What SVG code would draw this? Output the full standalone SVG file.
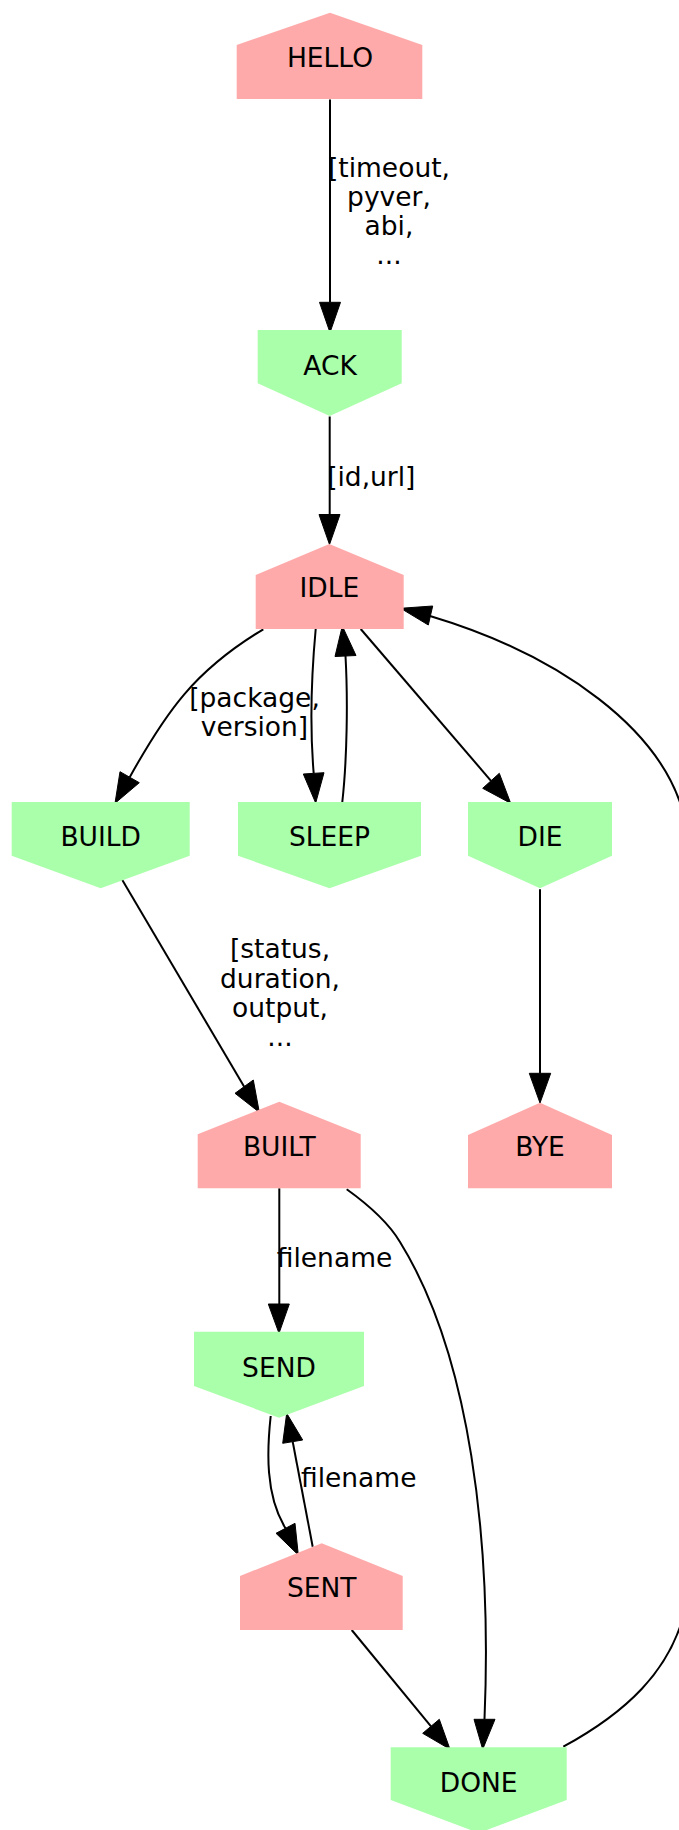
<svg xmlns="http://www.w3.org/2000/svg" width="679" height="1830" viewBox="0 0 679 1830">
<style>
.bg{fill:#ffffff}
.req{fill:#ffaaaa;stroke:none}
.rsp{fill:#aaffaa;stroke:none}
.edge{fill:none;stroke:#000000;stroke-width:2}
.arrow{fill:#000000;stroke:#000000;stroke-width:1}
text{font-family:"DejaVu Sans","Liberation Sans",sans-serif;font-size:26.5px;fill:#000000;text-anchor:middle}
</style>
<rect class="bg" x="0" y="0" width="679" height="1830"/>
<g id="edges">
  <g id="e-hello-ack">
    <path class="edge" d="M330,99.5 V302.3"/>
    <polygon class="arrow" points="330,332.5 319.5,302.3 340.5,302.3"/>
    <text x="389" y="176.5">[timeout,</text>
    <text x="389" y="205.8">pyver,</text>
    <text x="389" y="235.1">abi,</text>
    <text x="389" y="264.4">...</text>
  </g>
  <g id="e-ack-idle">
    <path class="edge" d="M329.7,416.5 V514.5"/>
    <polygon class="arrow" points="329.5,544.5 319,514.5 340,514.5"/>
    <text x="371.3" y="486">[id,url]</text>
  </g>
  <g id="e-idle-build">
    <path class="edge" d="M263.3,629.3 C194.7,670.4 166.2,711.6 129.7,777.2"/>
    <polygon class="arrow" points="115,803.3 120,771.7 139.3,782.7"/>
    <text x="254.5" y="706.7">[package,</text>
    <text x="254.5" y="736">version]</text>
  </g>
  <g id="e-idle-sleep">
    <path class="edge" d="M315.7,629 C311,680 310,730 313.7,773.3"/>
    <polygon class="arrow" points="315.7,803 303.3,774 324,772.7"/>
  </g>
  <g id="e-sleep-idle">
    <path class="edge" d="M342.3,802 C347,760 348,700 345.5,656"/>
    <polygon class="arrow" points="342.3,626 335,656.5 356,655.5"/>
  </g>
  <g id="e-idle-die">
    <path class="edge" d="M360.7,629 L491,780.8"/>
    <polygon class="arrow" points="510.7,803.3 482.7,788.3 499.3,773.3"/>
  </g>
  <g id="e-done-idle">
    <path class="edge" d="M563.3,1746.7 C625,1713 670,1672 685,1610 C700,1550 700,900 685,820 C665,730 560,655 430,616"/>
    <polygon class="arrow" points="400.7,608.3 428.3,625 432.7,606"/>
  </g>
  <g id="e-build-built">
    <path class="edge" d="M122.3,880 L244.2,1086.7"/>
    <polygon class="arrow" points="259.3,1112.3 235,1093.3 253.3,1080"/>
    <text x="280" y="958.3">[status,</text>
    <text x="280" y="987.6">duration,</text>
    <text x="280" y="1016.9">output,</text>
    <text x="280" y="1046.2">...</text>
  </g>
  <g id="e-die-bye">
    <path class="edge" d="M540,889.3 V1073.3"/>
    <polygon class="arrow" points="540,1103 529.3,1073.3 550.7,1073.3"/>
  </g>
  <g id="e-built-send">
    <path class="edge" d="M279.3,1188.3 V1304"/>
    <polygon class="arrow" points="279,1333.3 268.3,1304 289.3,1304"/>
    <text x="334.5" y="1266.7">filename</text>
  </g>
  <g id="e-built-done">
    <path class="edge" d="M346.7,1189.3 C370,1206 388,1222 400,1242 C470,1355 492,1540 484.5,1719.3"/>
    <polygon class="arrow" points="482.7,1749.3 474,1719.3 495,1719.3"/>
  </g>
  <g id="e-send-sent">
    <path class="edge" d="M270.7,1416 C267,1450 265,1495 285.5,1528.3"/>
    <polygon class="arrow" points="298.3,1555 276,1533.3 295,1523.3"/>
  </g>
  <g id="e-sent-send">
    <path class="edge" d="M312.7,1546.7 L292.7,1441.7"/>
    <polygon class="arrow" points="286.7,1413.3 282.7,1443.3 302.7,1440"/>
    <text x="358.7" y="1487.3">filename</text>
  </g>
  <g id="e-sent-done">
    <path class="edge" d="M351.7,1630 L431,1726.3"/>
    <polygon class="arrow" points="450,1749.3 422.7,1733.3 439.3,1719.3"/>
  </g>
</g>
<g id="HELLO">
  <polygon class="req" points="330,12.7 422.3,45 422.3,99 236.7,99 236.7,45"/>
  <text x="330" y="66.7">HELLO</text>
</g>
<g id="ACK">
  <polygon class="rsp" points="257.7,330 401.7,330 401.7,383.3 329.7,416 257.7,383.3"/>
  <text x="330" y="375">ACK</text>
</g>
<g id="IDLE">
  <polygon class="req" points="329.3,544 403.7,575 403.7,629 255.7,629 255.7,575"/>
  <text x="329.3" y="596.7">IDLE</text>
</g>
<g id="BUILD">
  <polygon class="rsp" points="11.7,802 189.7,802 189.7,855.7 100.7,888.3 11.7,855.7"/>
  <text x="100.7" y="846">BUILD</text>
</g>
<g id="SLEEP">
  <polygon class="rsp" points="238,802 421,802 421,855.7 329.5,888.3 238,855.7"/>
  <text x="329.5" y="846">SLEEP</text>
</g>
<g id="DIE">
  <polygon class="rsp" points="468,802 612,802 612,855.7 540,888.3 468,855.7"/>
  <text x="540" y="846">DIE</text>
</g>
<g id="BUILT">
  <polygon class="req" points="279.3,1101.7 360.7,1134.3 360.7,1188.3 197.7,1188.3 197.7,1134.3"/>
  <text x="279.3" y="1156">BUILT</text>
</g>
<g id="BYE">
  <polygon class="req" points="540,1102.7 612,1135 612,1188.3 468,1188.3 468,1135"/>
  <text x="540" y="1156">BYE</text>
</g>
<g id="SEND">
  <polygon class="rsp" points="194,1331.7 364,1331.7 364,1386 279,1417.7 194,1386"/>
  <text x="279" y="1376.7">SEND</text>
</g>
<g id="SENT">
  <polygon class="req" points="321.7,1543.3 402.7,1576 402.7,1630 240,1630 240,1576"/>
  <text x="321.7" y="1596.7">SENT</text>
</g>
<g id="DONE">
  <polygon class="rsp" points="390.7,1747.3 566.7,1747.3 566.7,1800 478.7,1833 390.7,1800"/>
  <text x="478.7" y="1791.7">DONE</text>
</g>
</svg>
